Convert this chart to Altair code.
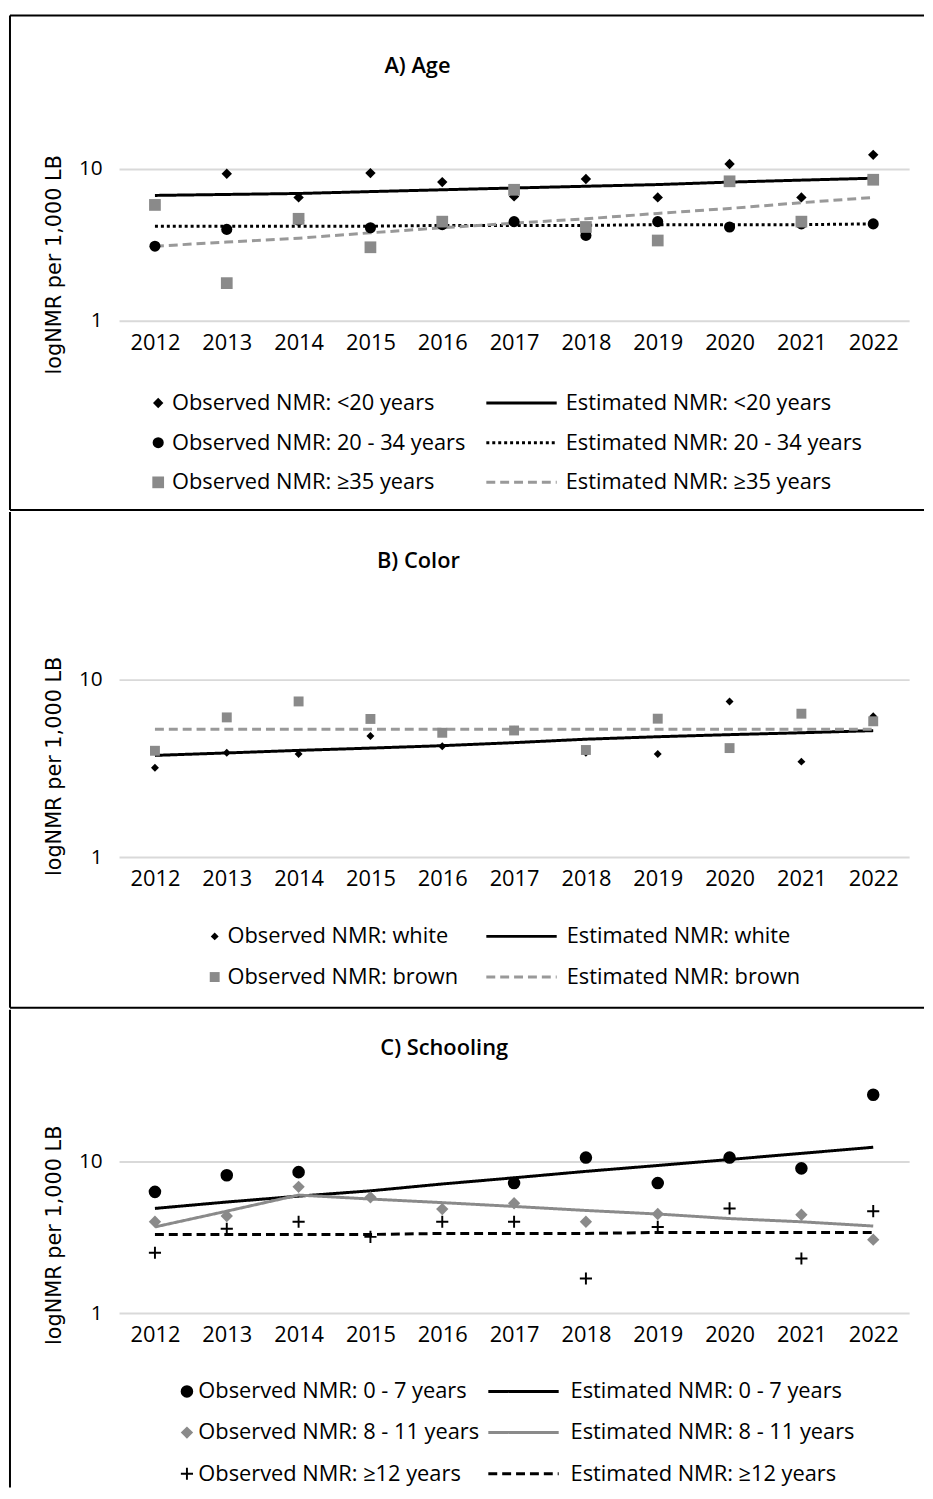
import altair as alt
import pandas as pd

years = ["2012", "2013", "2014", "2015", "2016", "2017", "2018", "2019", "2020", "2021", "2022"]

# ---------------- A) Age ----------------
age_obs_labels = ["Observed NMR: <20 years", "Observed NMR: 20 - 34 years", "Observed NMR: ≥35 years"]
age_est_labels = ["Estimated NMR: <20 years", "Estimated NMR: 20 - 34 years", "Estimated NMR: ≥35 years"]
age_obs_lt20 = [5.8, 9.3, 6.5, 9.4, 8.2, 6.6, 8.6, 6.5, 10.8, 6.5, 12.4]
age_obs_20_34 = [3.1, 4.0, 4.6, 4.1, 4.3, 4.5, 3.65, 4.5, 4.15, 4.35, 4.35]
age_obs_ge35 = [5.8, 1.77, 4.7, 3.05, 4.5, 7.3, 4.15, 3.38, 8.3, 4.5, 8.5]
age_est_lt20 = [6.7, 6.8, 6.9, 7.1, 7.3, 7.5, 7.7, 7.9, 8.2, 8.45, 8.7]
age_est_20_34 = [4.2, 4.2, 4.2, 4.2, 4.25, 4.25, 4.25, 4.3, 4.3, 4.3, 4.35]
age_est_ge35 = [3.1, 3.3, 3.5, 3.8, 4.1, 4.4, 4.7, 5.1, 5.5, 6.0, 6.5]

# ---------------- B) Color ----------------
color_obs_labels = ["Observed NMR: white", "Observed NMR: brown"]
color_est_labels = ["Estimated NMR: white", "Estimated NMR: brown"]
color_obs_white = [3.18, 3.86, 3.8, 4.8, 4.2, 5.2, 3.86, 3.8, 7.5, 3.44, 6.2]
color_obs_brown = [3.96, 6.1, 7.5, 5.98, 5.0, 5.15, 4.0, 6.0, 4.1, 6.4, 5.8]
color_est_white = [3.73, 3.85, 3.98, 4.1, 4.23, 4.4, 4.6, 4.75, 4.88, 5.0, 5.14]
color_est_brown = [5.24, 5.24, 5.24, 5.24, 5.24, 5.24, 5.24, 5.24, 5.24, 5.24, 5.24]

# ---------------- C) Schooling ----------------
sch_obs_labels = ["Observed NMR: 0 - 7 years", "Observed NMR: 8 - 11 years", "Observed NMR: ≥12 years"]
sch_est_labels = ["Estimated NMR: 0 - 7 years", "Estimated NMR: 8 - 11 years", "Estimated NMR: ≥12 years"]
sch_obs_0_7 = [6.3, 8.1, 8.5, None, None, 7.2, 10.6, 7.2, 10.6, 9.0, 27.5]
sch_obs_8_11 = [4.0, 4.37, 6.8, 5.8, 4.85, 5.3, 4.0, 4.5, None, 4.45, 3.05]
sch_obs_ge12 = [2.5, 3.6, 4.0, 3.18, 4.0, 4.0, 1.69, 3.7, 4.9, 2.29, 4.7]
sch_est_0_7 = [4.9, 5.4, 5.9, 6.4, 7.1, 7.8, 8.6, 9.4, 10.3, 11.3, 12.4]
sch_est_8_11 = [3.7, 4.7, 6.0, 5.65, 5.35, 5.05, 4.75, 4.5, 4.2, 4.0, 3.75]
sch_est_ge12 = [3.3, 3.3, 3.3, 3.3, 3.35, 3.35, 3.35, 3.4, 3.4, 3.4, 3.4]

Y_TITLE = "logNMR per 1,000 LB"
FONT = "Open Sans"
TITLE_FONT = "DejaVu Sans"
PLUS = "M-1,-0.16H1V0.16H-1Z M-0.16,-1H0.16V1H-0.16Z"
LINE_SYMBOL = "M-6,0H6"
W = 797
GRAY = "#8a8a8a"


def long_df(field, labels, series):
    rows = []
    for i, (lab, vals) in enumerate(zip(labels, series)):
        for yr, v in zip(years, vals):
            if v is not None:
                rows.append({"year": yr, field: lab, "value": v, "ord": i})
    return pd.DataFrame(rows)


def one():
    return alt.Data(values=[{"k": 0}])


def rule(x, y, x2=None, y2=None):
    enc = dict(x=alt.value(x), y=alt.value(y))
    if x2 is not None:
        enc["x2"] = alt.value(x2)
    if y2 is not None:
        enc["y2"] = alt.value(y2)
    return alt.Chart(one()).mark_rule(color="black", strokeWidth=2).encode(**enc)


def make_panel(obs_df, est_df, obs_labels, obs_shapes, obs_colors, obs_sizes,
               est_labels, est_colors, est_dashes, ymax, height, title, title_x, title_y,
               ytitle_y, obs_x, obs_y, obs_off, row_pad, est_x, est_y, est_off,
               frame_top, frame_bottom, draw_top, draw_bottom):
    x = alt.X("year:O", sort=years, scale=alt.Scale(domain=years),
              axis=alt.Axis(title=None, labelAngle=0, ticks=False, tickSize=0, domain=False, grid=False,
                            labelFont=FONT, labelFontSize=22, labelPadding=12, labelColor="black"))
    y = alt.Y("value:Q", scale=alt.Scale(type="log", domain=[1, ymax], nice=False),
              axis=alt.Axis(values=[1, 10], format="d", title=Y_TITLE, grid=True, gridColor="#d9d9d9",
                            gridWidth=2, ticks=False, tickSize=0, domain=False, labelFont=FONT,
                            labelFontSize=21, labelPadding=17, labelColor="black",
                            titleFont=TITLE_FONT, titleFontSize=21, titleFontWeight="normal",
                            titleColor="black", titleX=-65, titleY=ytitle_y, titleAngle=270,
                            titleAlign="center", titleBaseline="middle"))
    est_legend = alt.Legend(title=None, orient="none", legendX=est_x, legendY=est_y, direction="vertical",
                            columns=1, labelFont=FONT, labelFontSize=22, labelColor="black", labelLimit=600,
                            rowPadding=row_pad, padding=0, labelOffset=est_off, symbolType=LINE_SYMBOL,
                            symbolSize=140, symbolStrokeWidth=3)
    lines = alt.Chart(est_df).mark_line(strokeWidth=3).encode(
        x=x, y=y,
        color=alt.Color("est:N", scale=alt.Scale(domain=est_labels, range=est_colors), legend=est_legend),
        strokeDash=alt.StrokeDash("est:N", scale=alt.Scale(domain=est_labels, range=est_dashes),
                                  legend=est_legend),
    )
    obs_legend = alt.Legend(title=None, orient="none", legendX=obs_x, legendY=obs_y, direction="vertical",
                            columns=1, labelFont=FONT, labelFontSize=22, labelColor="black", labelLimit=600,
                            rowPadding=row_pad, padding=0, labelOffset=obs_off)
    points = alt.Chart(obs_df).mark_point(filled=True, opacity=1).encode(
        x=x, y=y,
        color=alt.Color("obs:N", scale=alt.Scale(domain=obs_labels, range=obs_colors), legend=obs_legend),
        shape=alt.Shape("obs:N", scale=alt.Scale(domain=obs_labels, range=obs_shapes), legend=obs_legend),
        size=alt.Size("obs:N", scale=alt.Scale(domain=obs_labels, range=obs_sizes), legend=obs_legend),
        order=alt.Order("ord:Q"),
    )
    ttl = alt.Chart(one()).mark_text(font=FONT, fontSize=22, fontWeight=600, color="black",
                                      baseline="middle", align="center").encode(
        x=alt.value(title_x), y=alt.value(title_y), text=alt.value(title))
    fl, fr = -110, 812
    frame_layers = [rule(fl, frame_top, y2=frame_bottom)]
    if draw_top:
        frame_layers.append(rule(fl, frame_top, x2=fr, y2=frame_top))
    if draw_bottom:
        frame_layers.append(rule(fl, frame_bottom, x2=fr, y2=frame_bottom))
    return alt.layer(*frame_layers, ttl, lines, points).resolve_scale(
        color="independent", shape="independent", size="independent", strokeDash="independent"
    ).properties(width=W, height=height)


a_obs = long_df("obs", age_obs_labels, [age_obs_lt20, age_obs_20_34, age_obs_ge35])
a_est = long_df("est", age_est_labels, [age_est_lt20, age_est_20_34, age_est_ge35])
b_obs = long_df("obs", color_obs_labels, [color_obs_white, color_obs_brown])
b_est = long_df("est", color_est_labels, [color_est_white, color_est_brown])
c_obs = long_df("obs", sch_obs_labels, [sch_obs_0_7, sch_obs_8_11, sch_obs_ge12])
c_est = long_df("est", sch_est_labels, [sch_est_0_7, sch_est_8_11, sch_est_ge12])

panel_a = make_panel(a_obs, a_est, age_obs_labels, ["diamond", "circle", "square"], ["black", "black", GRAY],
                     [110, 140, 115], age_est_labels, ["black", "black", "#999999"], [[1, 0], [3, 3], [9, 5]],
                     15, 180, "A) Age", 301, -77, 123,
                     28.5, 252, 3, 18, 395, 252, 33.5, -128, 371, True, True)

panel_b = make_panel(b_obs, b_est, color_obs_labels, ["diamond", "square"], ["black", GRAY],
                     [64, 100], color_est_labels, ["black", "#999999"], [[1, 0], [9, 5]],
                     15, 211, "B) Color", 302, -88, 119,
                     85.5, 280, 2, 19, 395, 280, 34.5, -137, 363, False, True)

panel_c = make_panel(c_obs, c_est, sch_obs_labels, ["circle", "diamond", PLUS], ["black", GRAY, "black"],
                     [160, 150, 150], sch_est_labels, ["black", GRAY, "black"], [[1, 0], [1, 0], [9, 5]],
                     30, 226, "C) Schooling", 328, -41, 147,
                     57.5, 294, 0.5, 19.5, 397, 294, 36.5, -80, 402, False, False)

chart = alt.vconcat(panel_a, panel_b, panel_c, spacing=0).resolve_scale(
    color="independent", shape="independent", size="independent", strokeDash="independent",
    x="independent", y="independent"
).resolve_legend(
    color="independent", shape="independent", size="independent", strokeDash="independent"
).properties(
    padding={"left": 1, "top": 0, "right": 0, "bottom": 0}
).configure_view(strokeWidth=0)

chart.save("out.html", embed_options={"renderer": "svg", "actions": False})
